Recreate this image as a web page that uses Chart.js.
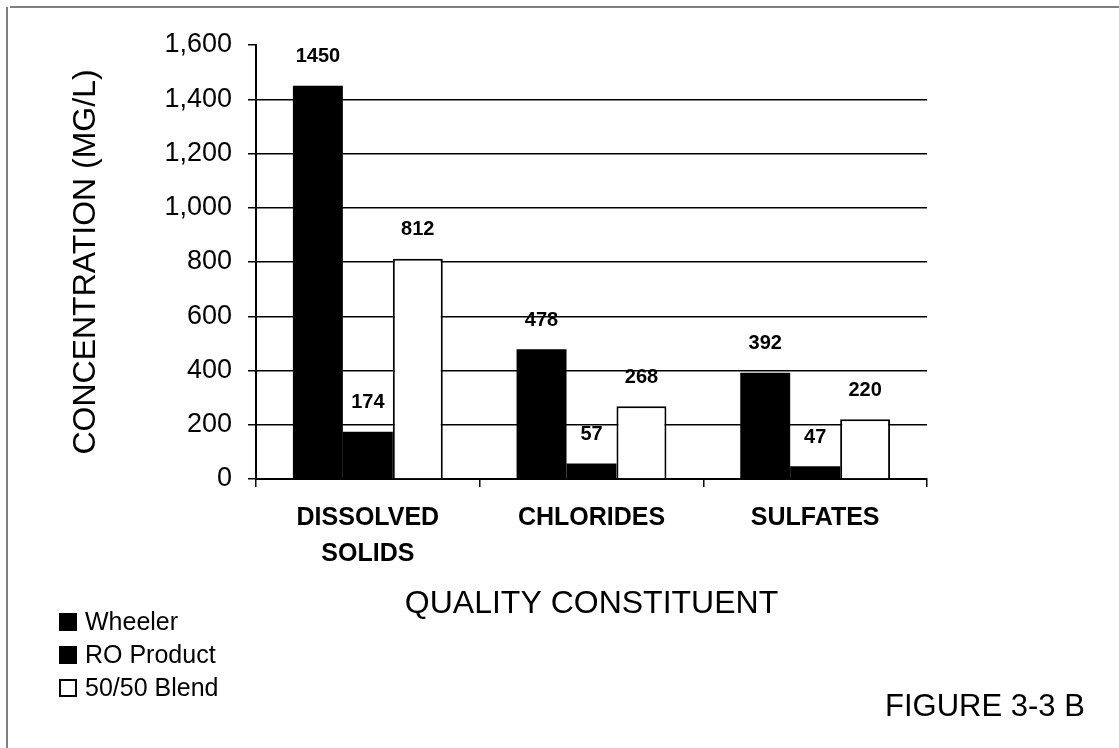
<!DOCTYPE html>
<html>
<head>
<meta charset="utf-8">
<script src="https://cdn.jsdelivr.net/npm/chart.js@4/dist/chart.umd.min.js"></script>
<style>
  html, body { margin: 0; padding: 0; background: #fff; }
  #wrap { width: 1119px; height: 748px; position: relative; }
</style>
</head>
<body>
<div id="wrap"><canvas id="chart"></canvas></div>
<script>
/* Figure 3-3 B: water quality constituents */

const FONT = '"Liberation Sans", Arial, Helvetica, sans-serif';
const INK = '#000';

const categories = [['DISSOLVED', 'SOLIDS'], 'CHLORIDES', 'SULFATES'];
const seriesNames = ['Wheeler', 'RO Product', '50/50 Blend'];
const wheeler = [1450, 478, 392];
const roProduct = [174, 57, 47];
const blend = [812, 268, 220];
const yTicks = [0, 200, 400, 600, 800, 1000, 1200, 1400, 1600];

const yTitle = 'CONCENTRATION (MG/L)';
const xTitle = 'QUALITY CONSTITUENT';
const figLabel = 'FIGURE 3-3 B';

// value labels above each bar, legend, titles and the page frame
const decor = {
  id: 'decor',
  beforeDraw(chart) {
    const { ctx } = chart;
    ctx.save();
    ctx.fillStyle = '#fff';
    ctx.fillRect(0, 0, chart.width, chart.height);
    ctx.strokeStyle = '#555';
    ctx.lineWidth = 1.5;
    ctx.beginPath();
    ctx.moveTo(10, 7); ctx.lineTo(chart.width, 7);
    ctx.moveTo(7, 7); ctx.lineTo(7, chart.height);
    ctx.stroke();
    ctx.restore();
  },
  afterDatasetsDraw(chart) {
    const { ctx, chartArea: a } = chart;
    ctx.save();
    ctx.fillStyle = INK;
    ctx.textAlign = 'center';
    ctx.textBaseline = 'middle';
    ctx.font = 'bold 20px ' + FONT;
    chart.data.datasets.forEach((ds, i) => {
      chart.getDatasetMeta(i).data.forEach((bar, j) => {
        ctx.fillText(String(ds.data[j]), bar.x, bar.y - 29);
      });
    });

    // axis titles
    ctx.font = '32px ' + FONT;
    ctx.fillText(xTitle, (a.left + a.right) / 2, 604);
    ctx.save();
    ctx.translate(86, (a.top + a.bottom) / 2);
    ctx.rotate(-Math.PI / 2);
    ctx.fillText(yTitle, 0, 0);
    ctx.restore();

    // legend
    ctx.font = '25px ' + FONT;
    ctx.textAlign = 'left';
    const rows = [622, 655, 688];
    chart.data.datasets.forEach((ds, i) => {
      const y = rows[i];
      if (ds.backgroundColor === '#fff') {
        ctx.fillStyle = '#fff';
        ctx.fillRect(60, y - 8, 16, 16);
        ctx.strokeStyle = INK;
        ctx.lineWidth = 2;
        ctx.strokeRect(60, y - 8, 16, 16);
      } else {
        ctx.fillStyle = INK;
        ctx.fillRect(59, y - 9, 18, 18);
      }
      ctx.fillStyle = INK;
      ctx.fillText(ds.label, 85, y + 1);
    });

    ctx.font = '31px ' + FONT;
    ctx.fillText(figLabel, 885, 707);
    ctx.restore();
  }
};

new Chart(document.getElementById('chart'), {
  type: 'bar',
  data: {
    labels: categories,
    datasets: [
      { label: seriesNames[0], data: wheeler, backgroundColor: INK, borderWidth: 0 },
      { label: seriesNames[1], data: roProduct, backgroundColor: INK, borderWidth: 0 },
      { label: seriesNames[2], data: blend, backgroundColor: '#fff', borderColor: INK, borderWidth: 2 },
    ],
  },
  options: {
    responsive: true,
    maintainAspectRatio: false,
    animation: false,
    devicePixelRatio: 1,
    layout: { padding: { left: 0, top: 45, right: 192, bottom: 0 } },
    datasets: { bar: { barPercentage: 1, categoryPercentage: 0.67 } },
    plugins: { legend: { display: false }, tooltip: { enabled: false } },
    scales: {
      x: {
        afterFit: s => { s.height = 269; },
        border: { display: true, color: INK, width: 2 },
        grid: { offset: true, drawOnChartArea: false, drawTicks: true, tickLength: 8, color: INK, lineWidth: 1.5 },
        ticks: { color: INK, padding: 13, maxRotation: 0, autoSkip: false,
          font: { family: FONT, size: 25, weight: 'bold', lineHeight: 1.44 } },
      },
      y: {
        min: 0, max: 1600,
        afterFit: s => { s.width = 256; },
        afterBuildTicks: s => { s.ticks = yTicks.map(v => ({ value: v })); },
        border: { display: true, color: INK, width: 2 },
        grid: {
          color: c => (c.tick && (c.tick.value === 0 || c.tick.value === 1600)) ? 'rgba(0,0,0,0)' : INK,
          tickColor: INK, lineWidth: 1.5, tickLength: 8,
        },
        ticks: { color: INK, padding: 16, font: { family: FONT, size: 27 } },
      },
    },
  },
  plugins: [decor],
});
</script>
</body>
</html>
